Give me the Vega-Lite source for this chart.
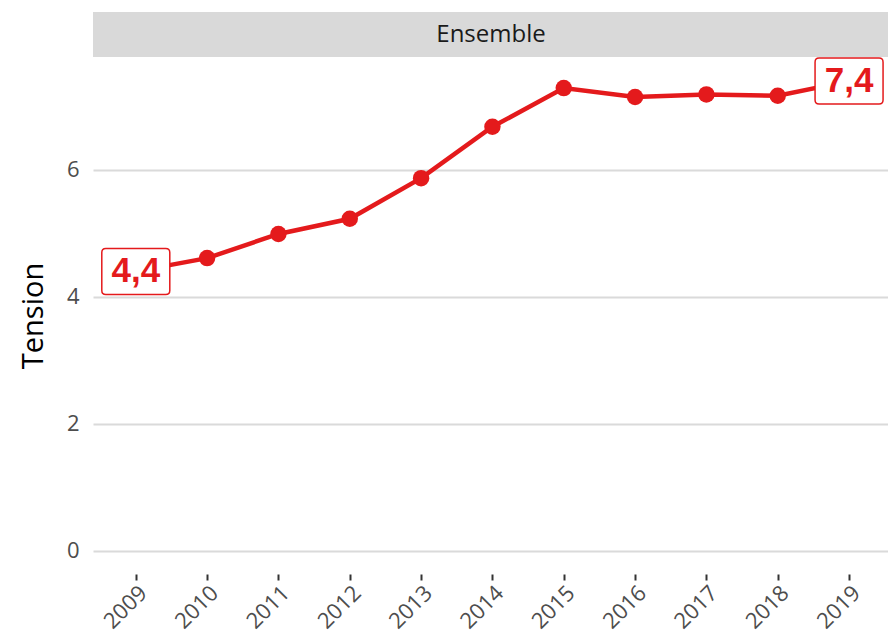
{
  "$schema": "https://vega.github.io/schema/vega-lite/v6.json",
  "padding": {"left": 19, "top": 12, "right": 0, "bottom": 0},
  "background": "white",
  "spacing": 0,
  "bounds": "flush",
  "config": {"view": {"stroke": null}, "font": "Open Sans"},
  "datasets": {
    "main": [
      {"year": 2009, "value": 4.4, "label": "4,4"},
      {"year": 2010, "value": 4.61},
      {"year": 2011, "value": 4.99},
      {"year": 2012, "value": 5.23},
      {"year": 2013, "value": 5.87},
      {"year": 2014, "value": 6.68},
      {"year": 2015, "value": 7.29},
      {"year": 2016, "value": 7.15},
      {"year": 2017, "value": 7.19},
      {"year": 2018, "value": 7.17},
      {"year": 2019, "value": 7.4, "label": "7,4"}
    ],
    "panel": [{"panel": "Ensemble"}]
  },
  "vconcat": [
    {
      "width": 796,
      "height": 45,
      "data": {"name": "panel"},
      "layer": [
        {"mark": {"type": "rect", "fill": "#D9D9D9"}, "encoding": {}},
        {"mark": {"type": "text", "fontSize": 24, "fill": "#1A1A1A", "font": "Open Sans", "align": "center", "baseline": "middle"},
         "encoding": {"text": {"field": "panel"}}}
      ]
    },
    {
      "width": 796,
      "height": 517,
      "data": {"name": "main"},
      "encoding": {
        "x": {"field": "year", "type": "quantitative",
          "scale": {"domain": [2008.4, 2019.56], "nice": false, "zero": false},
          "axis": {"values": [2009, 2010, 2011, 2012, 2013, 2014, 2015, 2016, 2017, 2018, 2019],
            "format": "d", "title": null, "grid": false, "domain": false,
            "ticks": true, "tickColor": "#333333", "tickSize": 6, "tickWidth": 2,
            "labelAngle": -45, "labelAlign": "right", "labelBaseline": "top",
            "labelFontSize": 22, "labelColor": "#4D4D4D", "labelPadding": 2,
            "labelOverlap": false, "labelFlush": false}},
        "y": {"field": "value", "type": "quantitative",
          "scale": {"domain": [-0.37, 7.78], "nice": false, "zero": false},
          "axis": {"values": [0, 2, 4, 6], "title": "Tension", "titleFontSize": 29,
            "titleColor": "#000000", "titleFontWeight": "normal", "titlePadding": 18,
            "ticks": false, "domain": false, "gridColor": "#DADADA", "gridWidth": 2,
            "labelFontSize": 22, "labelColor": "#4D4D4D", "labelPadding": 14}}
      },
      "layer": [
        {"mark": {"type": "line", "stroke": "#E41A1C", "strokeWidth": 4.5}},
        {"mark": {"type": "point", "filled": true, "fill": "#E41A1C", "size": 270, "opacity": 1}},
        {"transform": [{"filter": "isValid(datum.label)"}],
         "mark": {"type": "point", "filled": true, "fill": "white", "stroke": "#E41A1C", "strokeWidth": 1.5, "opacity": 1, "fillOpacity": 1, "strokeOpacity": 1,
           "size": 4624,
           "shape": "M-0.882,-0.676 L0.882,-0.676 Q1,-0.676 1,-0.558 L1,0.558 Q1,0.676 0.882,0.676 L-0.882,0.676 Q-1,0.676 -1,0.558 L-1,-0.558 Q-1,-0.676 -0.882,-0.676 Z"}},
        {"transform": [{"filter": "isValid(datum.label)"}],
         "mark": {"type": "text", "font": "Liberation Sans", "fontWeight": "bold", "fontSize": 35, "fill": "#E41A1C", "align": "center", "baseline": "middle"},
         "encoding": {"text": {"field": "label"}}}
      ]
    }
  ]
}
